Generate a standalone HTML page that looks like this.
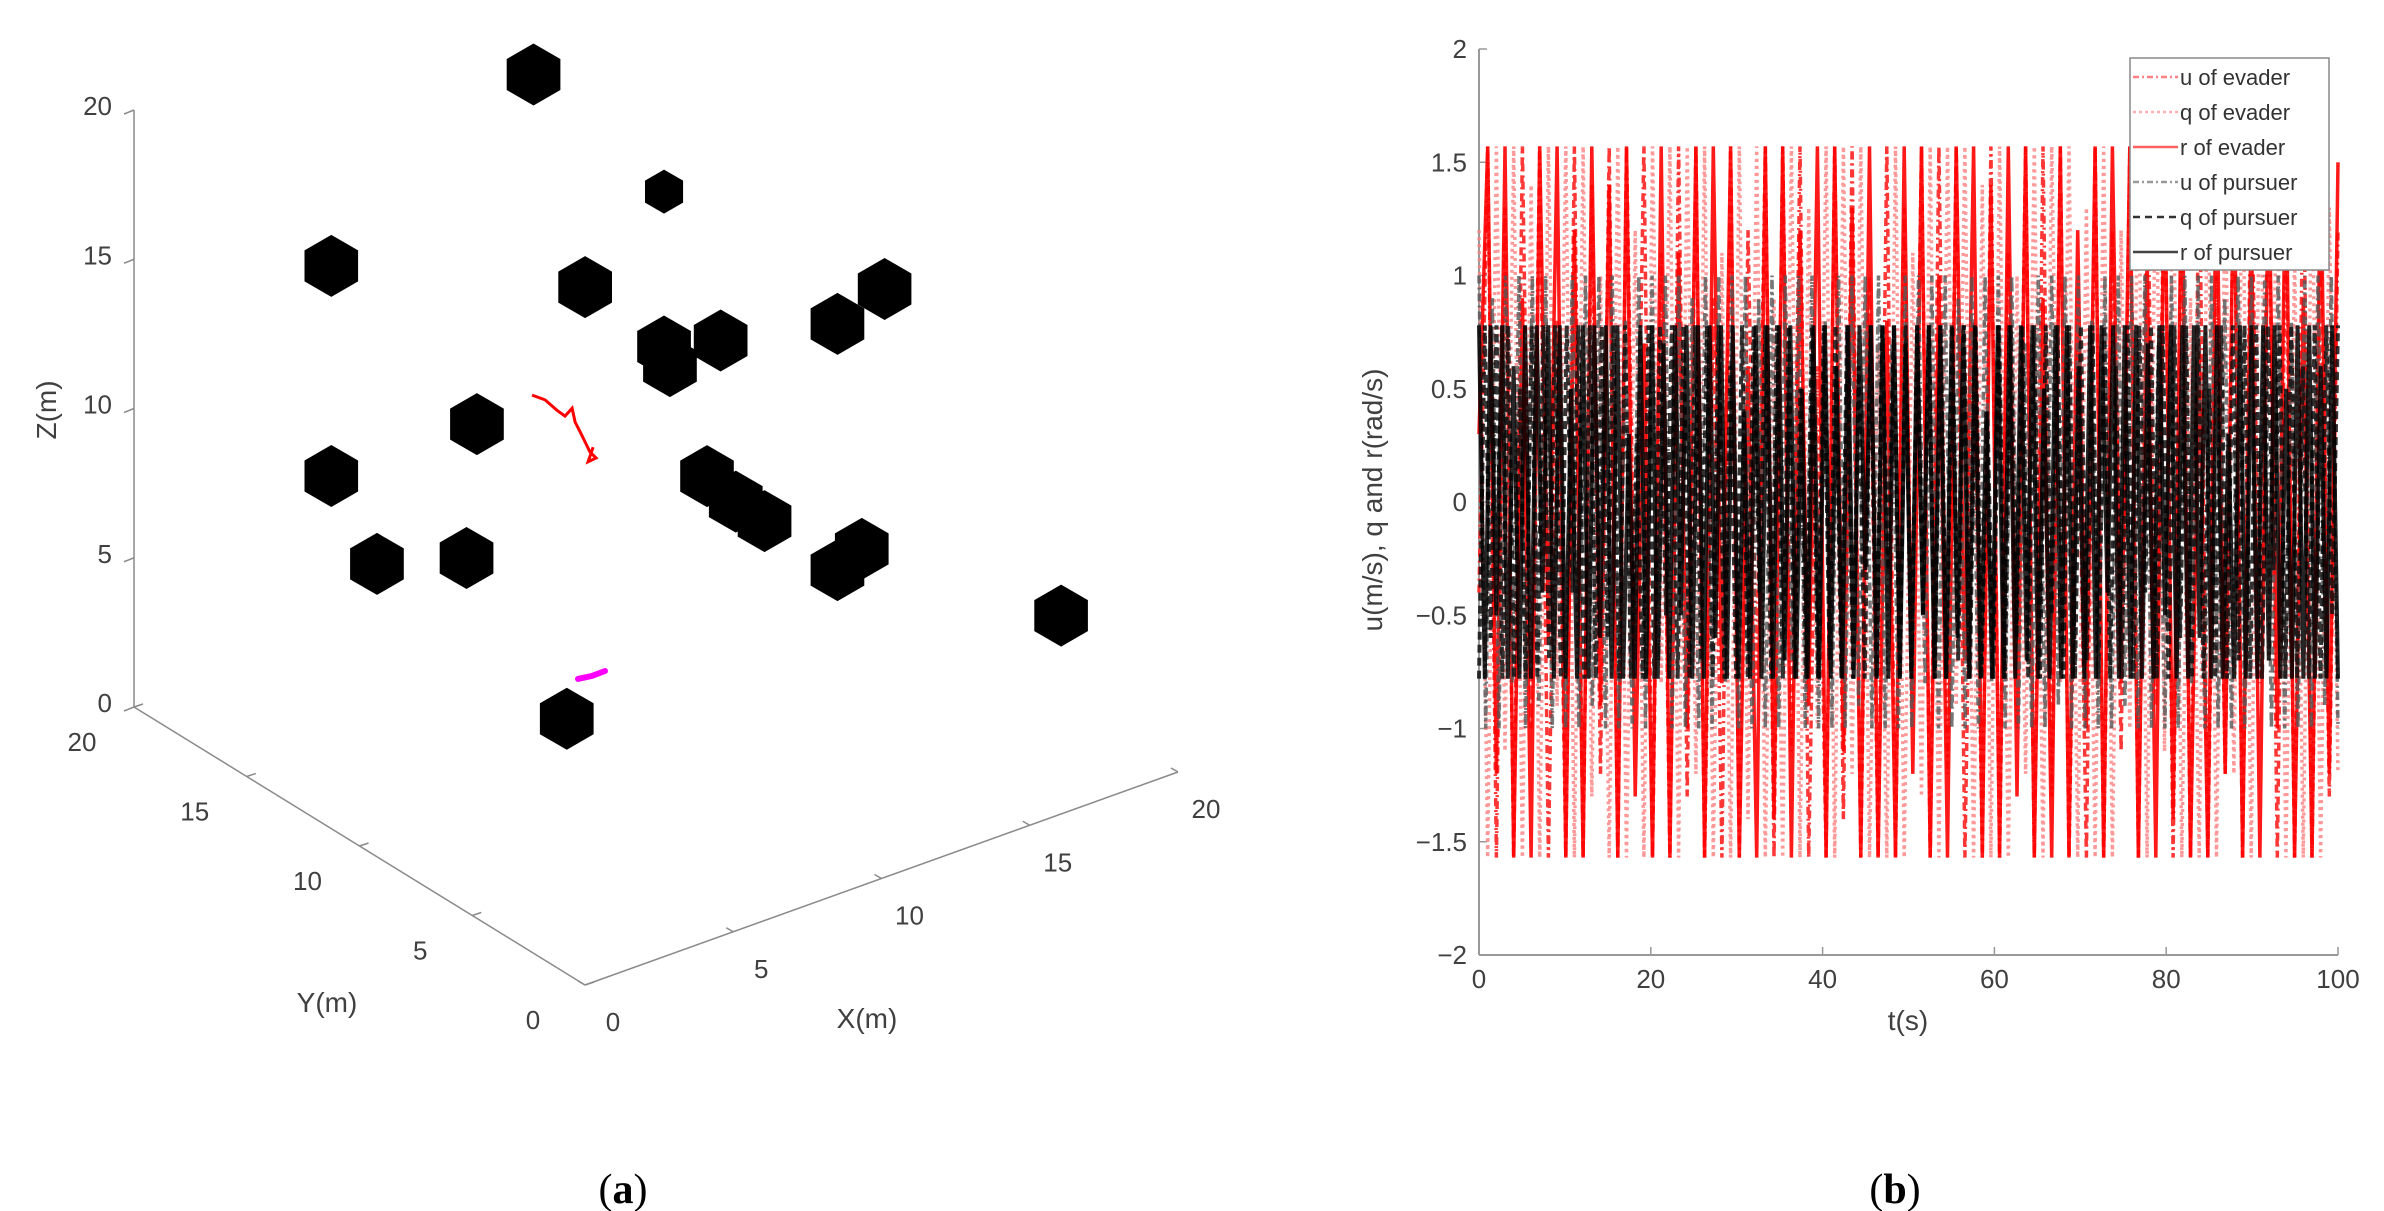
<!DOCTYPE html>
<html><head><meta charset="utf-8"><style>
html,body{margin:0;padding:0;background:#fff;}
svg{display:block;font-family:"Liberation Sans",sans-serif;}
</style></head><body>
<svg id="svg" width="2384" height="1211" viewBox="0 0 2384 1211" xmlns="http://www.w3.org/2000/svg">
<g id="left"></g>
<g id="right"></g>
<text x="623" y="1203" font-family="Liberation Serif,serif" font-size="42" text-anchor="middle" fill="#000">(<tspan font-weight="bold">a</tspan>)</text>
<text x="1895" y="1203" font-family="Liberation Serif,serif" font-size="42" text-anchor="middle" fill="#000">(<tspan font-weight="bold">b</tspan>)</text>
</svg>
<script>
const NS="http://www.w3.org/2000/svg";
// ---------- 3D scene data ----------
const obsX=[5.87,10.27,0.57,7.61,17.71,16.12,12.18,10.27,10.47,3.96,0.57,11.72,12.69,13.66,0.59,3.61,16.94,16.12,19.86,6.99];
const obsY=[10,10,12,10,10,10,10,10,10,10,12,10,10,10,10,10,10,10,5,10];
const obsZ=[23.75,18.26,18.3,16.01,12.34,11.74,12.59,13.07,12.34,12.72,11.26,8.21,7.01,6.01,9.24,8.36,3.91,3.49,2.96,1.77];
const evX=[5.82,6.26,6.66,6.93,7.17,7.27,7.44,7.61,7.77,7.98,7.71,7.88];
const evZ=[13.03,12.71,12.22,11.93,12.11,11.61,11.22,10.82,10.43,10.15,10.12,10.55];
const puX=[7.37,7.84,8.28];
const puZ=[2.97,2.90,2.91];
const axTicks=[0,5,10,15,20];
// ---------- 2D chart data ----------
const xTicks=[0,20,40,60,80,100];
const yTicks=[2,1.5,1,0.5,0,-0.5,-1,-1.5,-2];
const rEv="0.3 1.57 -1.2 1.57 -1.57 0.9 -1.57 1.57 -0.6 1.57 -1.57 1.2 -1.57 1.57 -0.9 1.4 -1.57 1.57 -1.3 0.7 -1.57 1.57 -1.57 1.1 -1.0 1.57 -1.57 1.57 -0.8 1.57 -1.57 0.6 -1.57 1.57 -1.4 1.57 -1.57 1.2 -0.9 1.57 -1.57 1.57 -1.1 1.3 -1.57 1.57 -1.57 0.8 -1.57 1.57 -1.2 1.57 -1.57 1.0 -1.57 1.57 -0.7 1.57 -1.57 1.4 -1.57 1.57 -1.3 1.57 -1.57 0.9 -1.57 1.57 -1.57 1.2 -1.0 1.57 -1.57 1.57 -0.8 1.57 -1.57 1.1 -1.57 1.57 -1.4 1.57 -1.57 0.7 -1.57 1.57 -1.2 1.57 -1.57 1.3 -1.57 1.57 -1.0 1.57 -1.57 0.9 -1.57 1.57 -1.2 1.5".split(" ").map(Number);
const uEv="-0.4 1.57 -1.57 1.3 -1.57 1.57 -1.0 1.57 -1.57 0.8 -1.57 1.57 -1.57 1.4 -1.2 1.57 -1.57 1.57 -0.7 1.57 -1.57 1.1 -1.57 1.57 -1.3 1.57 -1.57 0.9 -1.57 1.57 -1.57 1.2 -0.8 1.57 -1.57 1.57 -1.1 1.57 -1.57 0.6 -1.57 1.57 -1.4 1.57 -1.57 1.0 -1.57 1.57 -1.57 1.3 -0.9 1.57 -1.57 1.57 -1.2 1.57 -1.57 0.8 -1.57 1.57 -1.57 1.1 -1.0 1.57 -1.57 1.57 -1.3 1.57 -1.57 0.7 -1.57 1.57 -1.57 1.2 -1.1 1.57 -1.57 1.57 -0.9 1.57 -1.57 1.4 -1.57 1.57 -1.57 1.0 -1.2 1.57 -1.57 1.57 -0.8 1.57 -1.57 1.3 -1.57 1.57 -1.57 1.1 -1.3 1.2".split(" ").map(Number);
const qEv="1.2 -1.57 1.57 -1.1 1.57 -1.57 1.4 -1.57 1.57 -0.9 1.57 -1.57 1.57 -1.3 1.0 -1.57 1.57 -1.57 1.2 -1.57 1.57 -0.8 1.57 -1.57 1.57 -1.2 1.57 -1.57 1.1 -1.57 1.57 -1.4 1.57 -1.57 0.9 -1.57 1.57 -1.57 1.3 -1.0 1.57 -1.57 1.57 -1.2 1.57 -1.57 0.7 -1.57 1.57 -1.57 1.1 -1.3 1.57 -1.57 1.57 -0.9 1.57 -1.57 1.4 -1.57 1.57 -1.57 1.0 -1.2 1.57 -1.57 1.57 -0.8 1.57 -1.57 1.3 -1.57 1.57 -1.57 1.2 -1.0 1.57 -1.57 1.57 -1.1 1.57 -1.57 0.9 -1.57 1.57 -1.57 1.4 -1.2 1.57 -1.57 1.57 -0.7 1.57 -1.57 1.1 -1.57 1.57 -1.57 1.3 -1.2".split(" ").map(Number);
const rPur="0.78 -0.78 0.78 -0.5 0.78 -0.78 0.6 -0.78 0.78 -0.78 0.78 -0.4 0.78 -0.78 0.78 -0.78 0.5 -0.78 0.78 -0.78 0.78 -0.6 0.78 -0.78 0.78 -0.78 0.3 -0.78 0.78 -0.78 0.78 -0.78 0.7 -0.78 0.78 -0.5 0.78 -0.78 0.78 -0.78 0.78 -0.6 0.78 -0.78 0.78 -0.78 0.4 -0.78 0.78 -0.78 0.78 -0.78 0.78 -0.7 0.78 -0.78 0.5 -0.78 0.78 -0.78 0.78 -0.78 0.6 -0.78 0.78 -0.78 0.78 -0.3 0.78 -0.78 0.78 -0.78 0.78 -0.78 0.7 -0.78 0.78 -0.5 0.78 -0.78 0.78 -0.78 0.78 -0.6 0.78 -0.78 0.78 -0.78 0.4 -0.78 0.78 -0.78 0.78 -0.78 0.78 -0.7 0.78 -0.78 0.5 -0.78 0.78 -0.78 0.78 -0.78 0.6 -0.78 0.78 -0.78 0.78 -0.4 0.78 -0.78 0.78 -0.78 0.78 -0.78 0.7 -0.78 0.78 -0.5 0.78 -0.78 0.78 -0.78 0.78 -0.6 0.78 -0.78 0.78 -0.78 0.3 -0.78 0.78 -0.78 0.78 -0.78 0.78 -0.7 0.78 -0.78 0.5 -0.78 0.78 -0.78 0.78 -0.78 0.6 -0.78 0.78 -0.78".split(" ").map(Number);
const qPur="-0.78 0.78 -0.6 0.78 -0.78 0.78 -0.78 0.5 -0.78 0.78 -0.78 0.78 -0.7 0.78 -0.78 0.78 -0.4 0.78 -0.78 0.78 -0.78 0.78 -0.6 0.78 -0.78 0.78 -0.78 0.3 -0.78 0.78 -0.78 0.78 -0.5 0.78 -0.78 0.78 -0.78 0.78 -0.7 0.78 -0.78 0.78 -0.78 0.6 -0.78 0.78 -0.78 0.78 -0.4 0.78 -0.78 0.78 -0.78 0.78 -0.78 0.5 -0.78 0.78 -0.78 0.78 -0.7 0.78 -0.78 0.78 -0.78 0.6 -0.78 0.78 -0.78 0.78 -0.3 0.78 -0.78 0.78 -0.78 0.78 -0.5 0.78 -0.78 0.78 -0.78 0.78 -0.7 0.78 -0.78 0.78 -0.78 0.4 -0.78 0.78 -0.78 0.78 -0.6 0.78 -0.78 0.78 -0.78 0.78 -0.5 0.78 -0.78 0.78 -0.78 0.78 -0.7 0.78 -0.78 0.78 -0.78 0.6 -0.78 0.78 -0.78 0.78 -0.4 0.78 -0.78 0.78 -0.78 0.78 -0.6 0.78 -0.78 0.78 -0.78 0.5 -0.78 0.78 -0.78 0.78 -0.7 0.78 -0.78 0.78 -0.78 0.78 -0.3 0.78 -0.78 0.78 -0.78 0.6 -0.78 0.78 -0.78 0.78 -0.5 0.78".split(" ").map(Number);
const uPur="1 -1 0.9 -1 1 -0.8 1 -1 1 -0.9 1 -1 0.7 -1 1 -1 1 -0.9 1 -1 1 -1 0.8 -1 1 -1 1 -0.7 1 -1 1 -1 0.9 -1 1 -1 1 -0.8 1 -1 1 -1 0.9 -1 1 -1 1 -0.7 1 -1 1 -1 0.8 -1 1 -1 1 -0.9 1 -1 1 -1 0.7 -1 1 -1 1 -0.8 1 -1 1 -1 0.9 -1 1 -1 1 -0.8 1 -1 1 -1 0.7 -1 1 -1 1 -0.9 1 -1 1 -1 0.8 -1 1 -1 1 -0.9 1 -1 1 -1 0.7 -1 1 -1 1 -0.8 1 -1 1 -1 0.9 -1 1 -1 1 -0.7 1 -1 1 -1 0.8 -1 1 -1 1 -0.9 1 -1".split(" ").map(Number);

function el(tag,attrs,parent,txt){const e=document.createElementNS(NS,tag);for(const k in attrs)e.setAttribute(k,attrs[k]);if(txt!==undefined)e.textContent=txt;parent.appendChild(e);return e;}

// ---------- 3D projection ----------
const L=document.getElementById('left');
const O=[585,985], UX=[29.65,-10.65], UY=[-22.55,-13.9], UZ=[0,-29.85];
function proj(x,y,z){return [O[0]+x*UX[0]+y*UY[0]+z*UZ[0], O[1]+x*UX[1]+y*UY[1]+z*UZ[1]];}
const axC="#8a8a8a", txC="#404040";
let a0=proj(0,20,0),a1=proj(0,20,20);
let e=el('line',{x1:a0[0],y1:a0[1],x2:a1[0],y2:a1[1],stroke:axC,'stroke-width':1.5},L);

a1=proj(0,0,0);
e=el('line',{x1:a0[0],y1:a0[1],x2:a1[0],y2:a1[1],stroke:axC,'stroke-width':1.5},L);

a0=proj(20,0,0);
e=el('line',{x1:a1[0],y1:a1[1],x2:a0[0],y2:a0[1],stroke:axC,'stroke-width':1.5},L);

axTicks.forEach(v=>{
  let p=proj(0,20,v);
  el('line',{x1:p[0]-10,y1:p[1]+4,x2:p[0],y2:p[1],stroke:axC,'stroke-width':1.5},L);
  let t=el('text',{x:p[0]-22,y:p[1]+5,'font-size':26,fill:txC,'text-anchor':'end'},L,String(v));
  
  p=proj(0,v,0);
  el('line',{x1:p[0],y1:p[1],x2:p[0]+9,y2:p[1]-3,stroke:axC,'stroke-width':1.5},L);
  t=el('text',{x:p[0]-52,y:p[1]+44,'font-size':26,fill:txC,'text-anchor':'middle'},L,String(v));
  
  p=proj(v,0,0);
  el('line',{x1:p[0],y1:p[1],x2:p[0]-7,y2:p[1]-4,stroke:axC,'stroke-width':1.5},L);
  t=el('text',{x:p[0]+28,y:p[1]+46,'font-size':26,fill:txC,'text-anchor':'middle'},L,String(v));
  
});
e=el('text',{x:0,y:0,'font-size':28,fill:txC,'text-anchor':'middle',transform:'translate(56,410) rotate(-90)'},L,'Z(m)');

e=el('text',{x:327,y:1012,'font-size':28,fill:txC,'text-anchor':'middle'},L,'Y(m)');

e=el('text',{x:867,y:1028,'font-size':28,fill:txC,'text-anchor':'middle'},L,'X(m)');

for(let i=0;i<obsX.length;i++){
  const c=proj(obsX[i],obsY[i],obsZ[i]);
  const r=(i===1)?22:31;
  let pts=[];
  for(let k=0;k<6;k++){const ang=Math.PI/2+k*Math.PI/3;pts.push((c[0]+r*Math.cos(ang)).toFixed(1)+','+(c[1]-r*Math.sin(ang)).toFixed(1));}
  const h=el('polygon',{points:pts.join(' '),fill:'#000'},L);
  
  
}
let d=evX.map((x,i)=>{const p=proj(x,10,evZ[i]);return (i?'L':'M')+p[0].toFixed(1)+' '+p[1].toFixed(1);}).join(' ');
e=el('path',{d:d,fill:'none',stroke:'#f00','stroke-width':3},L);

d=puX.map((x,i)=>{const p=proj(x,10,puZ[i]);return (i?'L':'M')+p[0].toFixed(1)+' '+p[1].toFixed(1);}).join(' ');
e=el('path',{d:d,fill:'none',stroke:'#f0f','stroke-width':6,'stroke-linecap':'round'},L);


// ---------- 2D chart ----------
const R=document.getElementById('right');
const X0=1479,X1=2338,Y0=955,Y1=49;
const sx=v=>X0+(v-0)/100*(X1-X0);
const sy=v=>Y0-(v+2)/4*(Y0-Y1);
e=el('line',{x1:X0,y1:Y1,x2:X0,y2:Y0,stroke:'#999','stroke-width':2},R);

e=el('line',{x1:X0,y1:Y0,x2:X1,y2:Y0,stroke:'#999','stroke-width':2},R);

yTicks.forEach(v=>{
  el('line',{x1:X0,y1:sy(v),x2:X0+8,y2:sy(v),stroke:'#999','stroke-width':1.5},R);
  const t=el('text',{x:X0-12,y:sy(v)+9,'font-size':26,fill:txC,'text-anchor':'end'},R,(v<0?'\u2212'+(-v):String(v)));
  
});
xTicks.forEach(v=>{
  el('line',{x1:sx(v),y1:Y0,x2:sx(v),y2:Y0-8,stroke:'#999','stroke-width':1.5},R);
  const t=el('text',{x:sx(v),y:Y0+33,'font-size':26,fill:txC,'text-anchor':'middle'},R,String(v));
  
});
e=el('text',{x:1908,y:1030,'font-size':28,fill:txC,'text-anchor':'middle'},R,'t(s)');

e=el('text',{x:0,y:0,'font-size':28,fill:txC,'text-anchor':'middle',transform:'translate(1382,500) rotate(-90)'},R,'u(m/s), q and r(rad/s)');


function series(vals,stroke,w,dash,op,name){
  const n=vals.length;
  const dd=vals.map((v,i)=>(i?'L':'M')+sx(i/(n-1)*100).toFixed(1)+' '+sy(v).toFixed(1)).join(' ');
  const p=el('path',{d:dd,fill:'none',stroke:stroke,'stroke-width':w,'stroke-dasharray':dash,opacity:op},R);
  
  
}
series(qEv,'#ff8080',3.5,'3 4',0.8,'q-evader-line');
series(uEv,'#ff2020',3.5,'8 4 2 4',0.9,'u-evader-line');
series(rEv,'#ff0000',3.5,'none',0.9,'r-evader-line');
series(uPur,'#555',3.5,'8 4 2 4',0.8,'u-pursuer-line');
series(qPur,'#111',4,'8 5',0.85,'q-pursuer-line');
series(rPur,'#000',4,'none',0.85,'r-pursuer-line');

const lg=el('g',{},R);

el('rect',{x:2130,y:58,width:199,height:212,fill:'#fff',stroke:'#888','stroke-width':1.5},lg);
const legLabels=['u of evader','q of evader','r of evader','u of pursuer','q of pursuer','r of pursuer'];
const legCol=['#ff8080','#ffb0b0','#ff6060','#999','#333','#444'];
const legDash=['6 3 2 3','3 3','none','6 3 2 3','7 5','none'];
legLabels.forEach((s,i)=>{
  const y=77+i*35;
  el('line',{x1:2133,y1:y,x2:2178,y2:y,stroke:legCol[i],'stroke-width':2.5,'stroke-dasharray':legDash[i]},lg);
  const t=el('text',{x:2180,y:y+8,'font-size':22,fill:'#333'},lg,s);
  
  
});
</script>
</body></html>
